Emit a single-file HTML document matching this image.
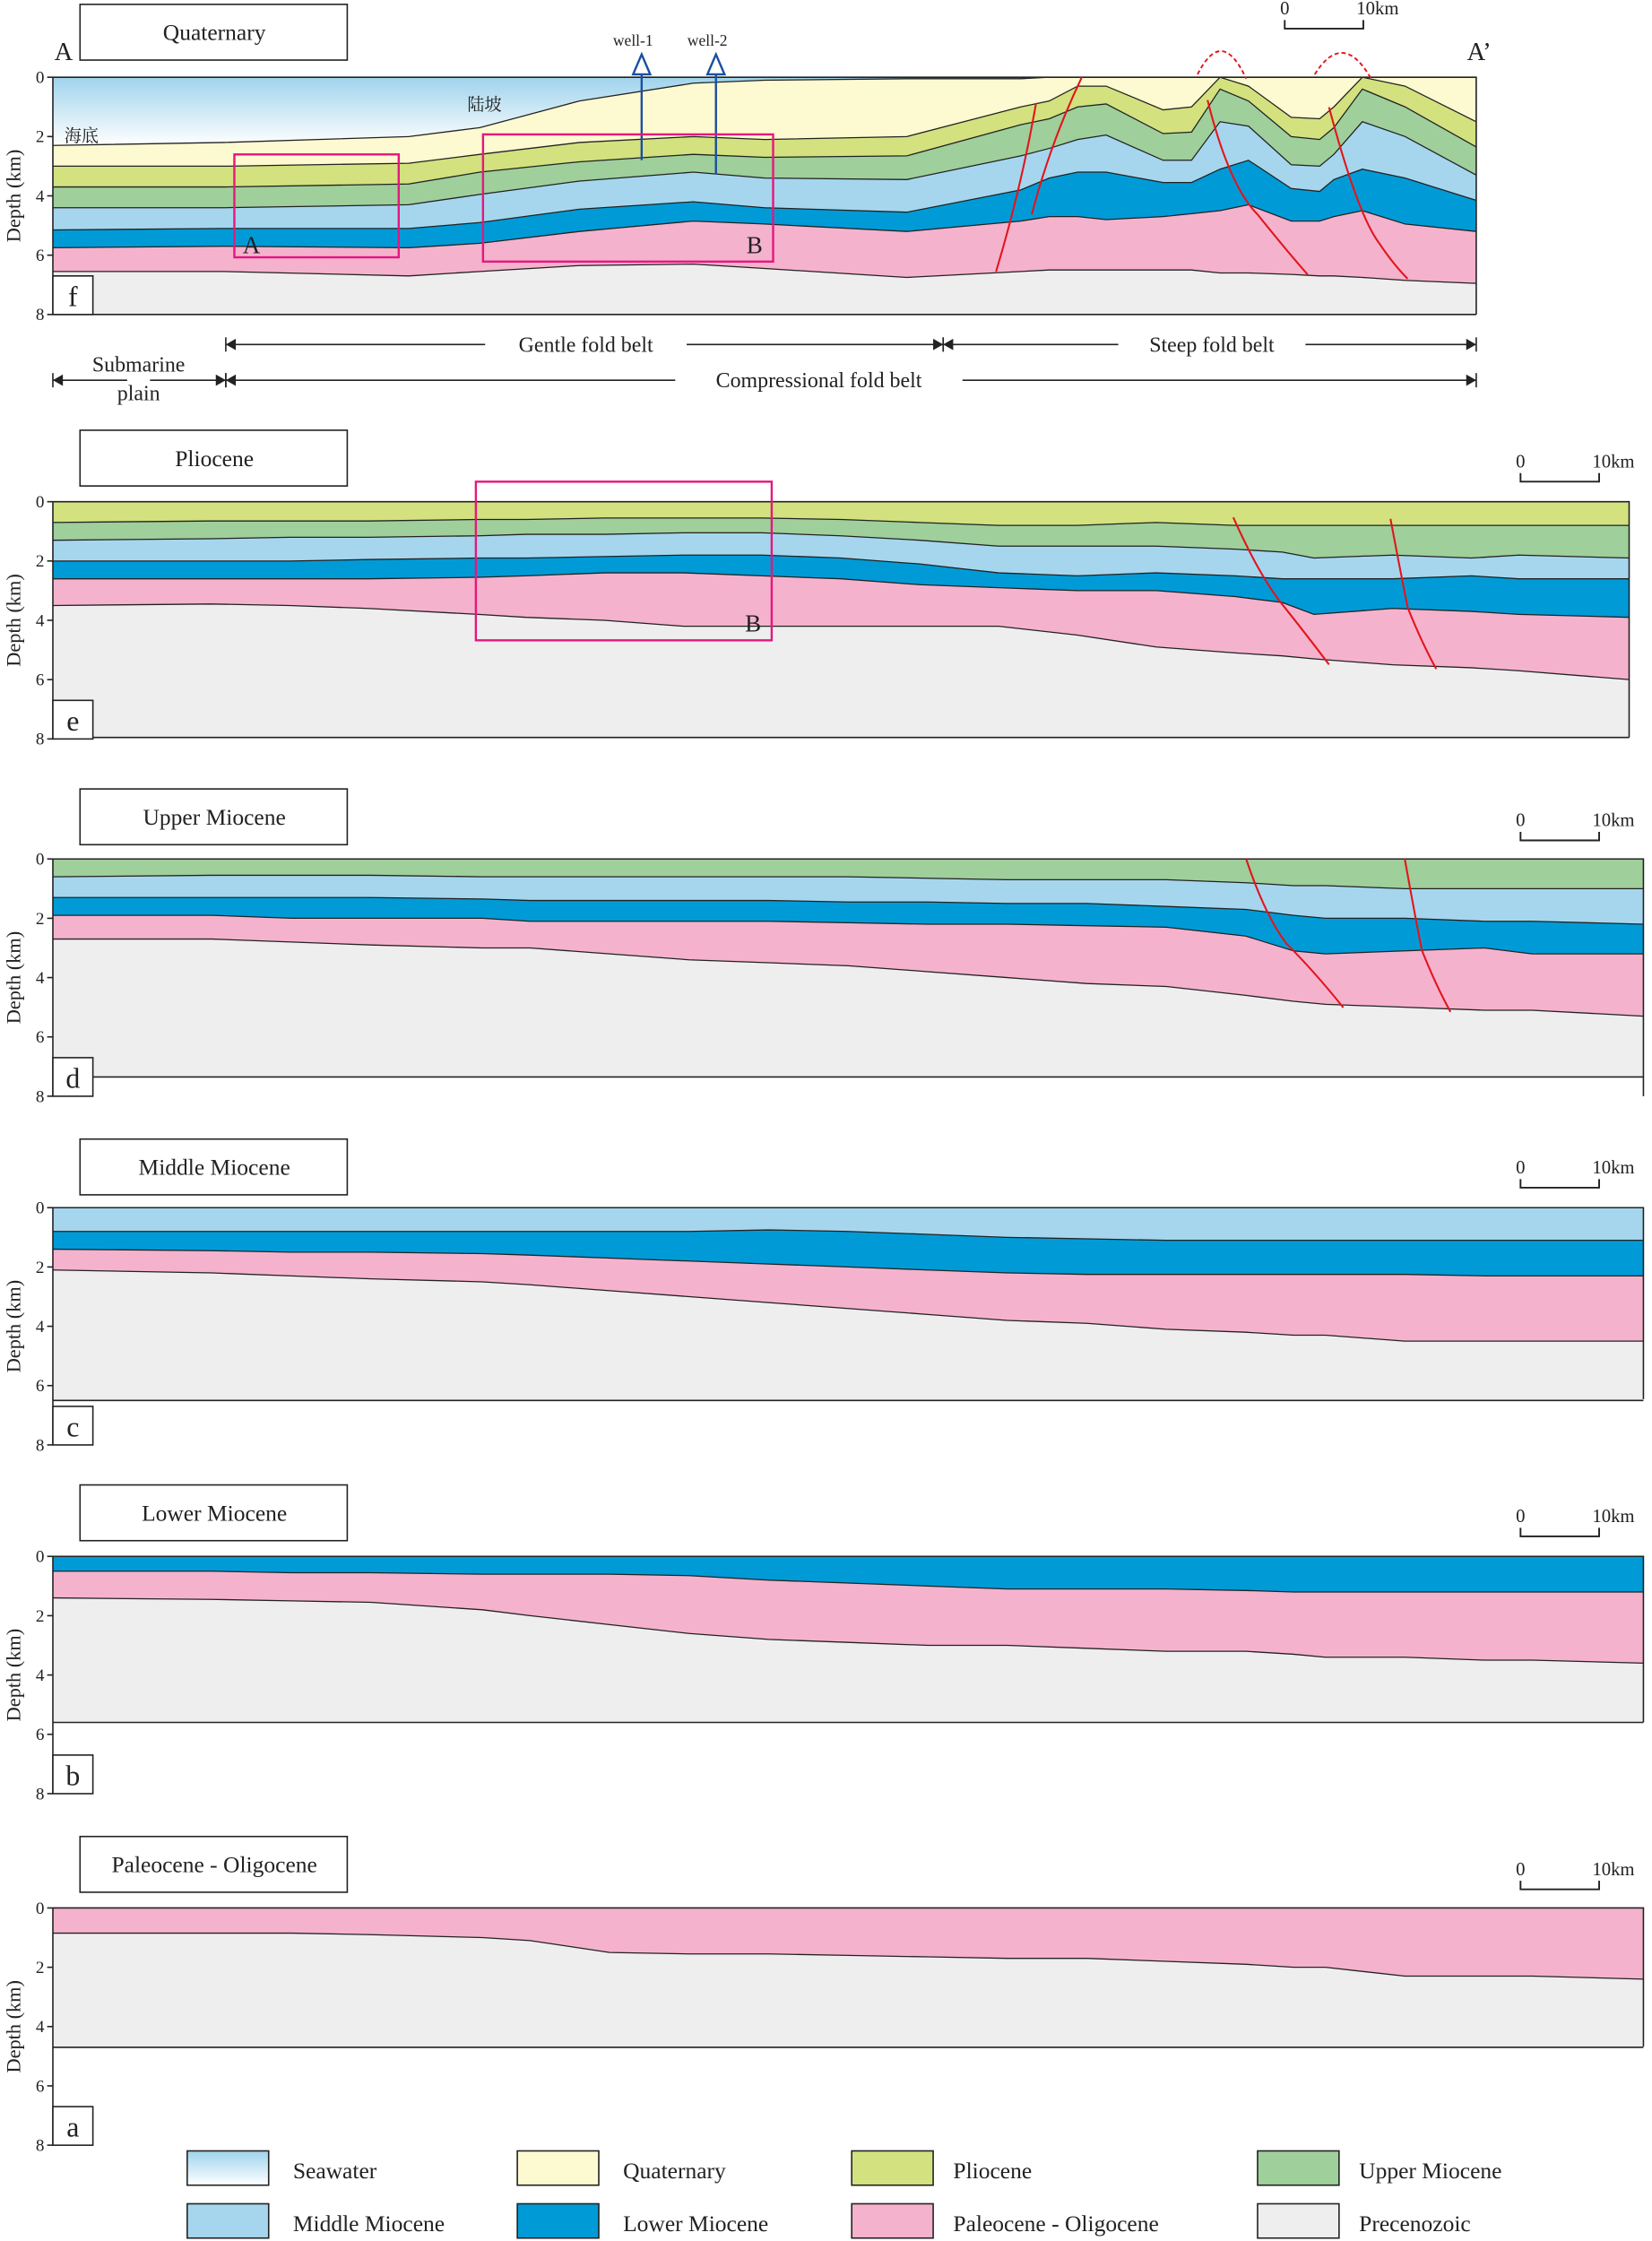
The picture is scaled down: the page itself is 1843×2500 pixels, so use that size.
<!DOCTYPE html>
<html><head><meta charset="utf-8">
<style>
html,body{margin:0;padding:0;background:#fff}
svg{display:block}
text{font-family:"Liberation Serif","Noto Serif CJK SC",serif;fill:#222}
</style></head>
<body>
<svg id="fig" xmlns="http://www.w3.org/2000/svg" width="1843" height="2500" viewBox="0 0 1156 1568">
<defs>
<linearGradient id="sea" x1="0" y1="0" x2="0" y2="1">
<stop offset="0" stop-color="#9fd3ec"/><stop offset="1" stop-color="#ffffff"/>
</linearGradient>
<linearGradient id="seaLeg" x1="0" y1="0" x2="0" y2="1">
<stop offset="0" stop-color="#9fd3ec"/><stop offset="1" stop-color="#ffffff"/>
</linearGradient>
</defs>
<g id="layers"></g>
<g id="overlay"></g>
</svg>
<script>
// ---------- DATA ----------
const layerNames = ["Seawater","Quaternary","Pliocene","Upper Miocene","Middle Miocene","Lower Miocene","Paleocene - Oligocene","Precenozoic"];
const layerColors = ["url(#sea)","#fdf9d0","#d3e17f","#9fcf9b","#a6d6ee","#009bd6","#f4b2cd","#eeeeee"];

// Panel f (Quaternary) - fraction along section, horizon tops in km
const fXs = [0,0.12,0.25,0.3,0.37,0.45,0.5,0.6,0.68,0.7,0.72,0.74,0.78,0.8,0.82,0.84,0.87,0.89,0.9,0.92,0.95,1];
const fSea   = [0,0,0,0,0,0,0,0,0,0,0,0,0,0,0,0,0,0,0,0,0,0];
const fQuat  = [2.3,2.2,2.0,1.7,0.8,0.2,0.1,0.05,0.05,0,0,0,0,0,0,0,0,0,0,0,0,0];
const fPlio  = [3.0,3.0,2.9,2.6,2.2,2.0,2.1,2.0,1.0,0.8,0.3,0.3,1.1,1.0,0,0.3,1.35,1.4,1.0,0,0.3,1.5];
const fUM    = [3.7,3.7,3.6,3.2,2.85,2.6,2.7,2.65,1.6,1.4,1.0,0.9,1.9,1.85,0.4,0.8,2.0,2.1,1.7,0.4,1.0,2.35];
const fMM    = [4.4,4.4,4.3,3.95,3.5,3.2,3.4,3.45,2.65,2.4,2.1,1.95,2.8,2.8,1.5,1.65,2.95,3.0,2.6,1.5,2.0,3.3];
const fLM    = [5.15,5.1,5.1,4.9,4.45,4.2,4.4,4.55,3.8,3.4,3.2,3.2,3.55,3.55,3.1,2.8,3.75,3.85,3.45,3.1,3.4,4.15];
const fPO    = [5.75,5.7,5.75,5.6,5.2,4.85,4.95,5.2,4.85,4.7,4.7,4.8,4.7,4.6,4.5,4.3,4.85,4.85,4.7,4.5,4.95,5.2];
const fPre   = [6.55,6.55,6.7,6.55,6.35,6.3,6.45,6.75,6.55,6.5,6.5,6.5,6.5,6.5,6.6,6.6,6.65,6.7,6.7,6.75,6.85,6.95];

// common x fractions for panels a-e
const xs = [0,0.1,0.15,0.2,0.27,0.3,0.35,0.4,0.45,0.5,0.55,0.6,0.65,0.7,0.75,0.78,0.8,0.85,0.9,0.93,1];
// Panel e (Pliocene)
const ePlio = xs.map(()=>0);
const eUM  = [0.7,0.65,0.65,0.65,0.6,0.6,0.55,0.55,0.55,0.6,0.7,0.8,0.8,0.7,0.8,0.8,0.8,0.8,0.8,0.8,0.8];
const eMM  = [1.3,1.25,1.2,1.2,1.15,1.1,1.1,1.05,1.05,1.15,1.3,1.5,1.5,1.5,1.6,1.7,1.9,1.8,1.9,1.8,1.9];
const eLM  = [2.0,2.0,2.0,1.95,1.9,1.9,1.85,1.8,1.8,1.9,2.1,2.4,2.5,2.4,2.5,2.6,2.6,2.6,2.5,2.6,2.6];
const ePO  = [2.6,2.6,2.6,2.6,2.55,2.5,2.4,2.4,2.5,2.6,2.8,2.9,3.0,3.0,3.2,3.4,3.8,3.6,3.7,3.8,3.9];
const ePre = [3.5,3.45,3.5,3.6,3.8,3.9,4.0,4.2,4.2,4.2,4.2,4.2,4.5,4.9,5.1,5.2,5.3,5.5,5.6,5.7,6.0];
// Panel d (Upper Miocene)
const dUM  = xs.map(()=>0);
const dMM  = [0.6,0.55,0.55,0.55,0.6,0.6,0.6,0.6,0.6,0.6,0.65,0.7,0.7,0.7,0.8,0.9,0.9,1.0,1.0,1.0,1.0];
const dLM  = [1.3,1.3,1.3,1.3,1.35,1.4,1.4,1.4,1.4,1.45,1.45,1.5,1.5,1.6,1.7,1.9,2.0,2.0,2.1,2.1,2.2];
const dPO  = [1.9,1.9,2.0,2.0,2.0,2.1,2.1,2.1,2.1,2.15,2.2,2.2,2.25,2.3,2.6,3.1,3.2,3.1,3.0,3.2,3.2];
const dPre = [2.7,2.7,2.8,2.9,3.0,3.0,3.2,3.4,3.5,3.6,3.8,4.0,4.2,4.3,4.6,4.8,4.9,5.0,5.1,5.1,5.3];
// Panel c (Middle Miocene)
const cMM  = xs.map(()=>0);
const cLM  = [0.8,0.8,0.8,0.8,0.8,0.8,0.8,0.8,0.75,0.8,0.9,1.0,1.05,1.1,1.1,1.1,1.1,1.1,1.1,1.1,1.1];
const cPO  = [1.4,1.45,1.5,1.5,1.55,1.6,1.7,1.8,1.9,2.0,2.1,2.2,2.25,2.25,2.25,2.25,2.25,2.25,2.3,2.3,2.3];
const cPre = [2.1,2.2,2.3,2.4,2.5,2.6,2.8,3.0,3.2,3.4,3.6,3.8,3.9,4.1,4.2,4.3,4.3,4.5,4.5,4.5,4.5];
// Panel b (Lower Miocene)
const bLM  = xs.map(()=>0);
const bPO  = [0.5,0.5,0.55,0.55,0.6,0.6,0.6,0.65,0.8,0.9,1.0,1.1,1.1,1.1,1.15,1.2,1.2,1.2,1.2,1.2,1.2];
const bPre = [1.4,1.45,1.5,1.55,1.8,2.0,2.3,2.6,2.8,2.9,3.0,3.0,3.1,3.2,3.2,3.3,3.4,3.4,3.5,3.5,3.6];
// Panel a (Paleocene - Oligocene)
const aPO  = xs.map(()=>0);
const aPre = [0.85,0.85,0.85,0.9,1.0,1.1,1.5,1.55,1.55,1.6,1.65,1.7,1.7,1.8,1.9,2.0,2.0,2.3,2.3,2.3,2.4];

const depthTicks = [0,2,4,6,8];

// ---------- DRAW ----------
const NS="http://www.w3.org/2000/svg";
const L=document.getElementById('layers');
const O=document.getElementById('overlay');
const PPK=20.75;
function mk(tag,attrs,parent){const e=document.createElementNS(NS,tag);for(const k in attrs)e.setAttribute(k,attrs[k]);(parent||O).appendChild(e);return e;}
function txt(x,y,s,size,anchor,parent){const t=mk('text',{x:x,y:y,'font-size':size,'text-anchor':anchor||'start'},parent);t.textContent=s;return t;}

function drawPanel(id,pxs,horizons,firstLayer,x0,x1,y0,bottom,frameRight){
  const X=f=>x0+f*(x1-x0);
  const Y=d=>y0+d*PPK;
  const g=mk('g',{},L);
  
  
  for(let i=0;i<horizons.length;i++){
    const top=horizons[i];
    const bot=i+1<horizons.length?horizons[i+1]:pxs.map(()=>bottom);
    let pts=pxs.map((f,j)=>X(f)+','+Y(top[j]));
    for(let j=pxs.length-1;j>=0;j--)pts.push(X(pxs[j])+','+Y(Math.max(bot[j],top[j])));
    const p=mk('polygon',{points:pts.join(' '),fill:layerColors[firstLayer+i],stroke:'none'},g);
    
    
  }
  for(let i=1;i<horizons.length;i++){
    const pl=mk('polyline',{points:pxs.map((f,j)=>X(f)+','+Y(horizons[i][j])).join(' '),fill:'none',stroke:'#222','stroke-width':0.8},g);
    
    
  }
  // frame
  const fr=mk('polyline',{points:`${x0},${Y(0)} ${x1},${Y(0)} ${x1},${frameRight} `,fill:'none',stroke:'#222','stroke-width':1});
  
  
  const bl=mk('line',{x1:x0,y1:Y(bottom),x2:x1,y2:Y(bottom),stroke:'#222','stroke-width':1});
  
  
  // axis
  const ax=mk('line',{x1:x0,y1:Y(0),x2:x0,y2:Y(8),stroke:'#222','stroke-width':1});
  
  
  depthTicks.forEach(t=>{
    const tk=mk('line',{x1:x0-4,y1:Y(t),x2:x0,y2:Y(t),stroke:'#222','stroke-width':1});
    
    
    const tl=txt(x0-6,Y(t)+4,String(t),12,'end');
    
    
  });
  const at=mk('text',{x:0,y:0,'font-size':14,'text-anchor':'middle',transform:`translate(14,${Y(4)}) rotate(-90)`});
  at.textContent='Depth (km)';
  
  
  // panel letter
  const lb=mk('rect',{x:x0,y:Y(6.7),width:28,height:27,fill:'#fff',stroke:'#222','stroke-width':1});
  
  
  const lt=txt(x0+14,Y(6.7)+21,id,20,'middle');
  
  
}

drawPanel('f',fXs,[fSea,fQuat,fPlio,fUM,fMM,fLM,fPO,fPre],0,37,1033,54,8,220);
drawPanel('e',xs,[ePlio,eUM,eMM,eLM,ePO,ePre],2,37,1140,351,7.95,516);
drawPanel('d',xs,[dUM,dMM,dLM,dPO,dPre],3,37,1150,601,7.35,767);
drawPanel('c',xs,[cMM,cLM,cPO,cPre],4,37,1150,845,6.5,979);
drawPanel('b',xs,[bLM,bPO,bPre],5,37,1150,1089,5.6,1205);
drawPanel('a',xs,[aPO,aPre],6,37,1150,1335,4.7,1432);

// title boxes
[['Quaternary',3],['Pliocene',301],['Upper Miocene',552],['Middle Miocene',797],['Lower Miocene',1039],['Paleocene - Oligocene',1285]].forEach(([t,y])=>{
  const r=mk('rect',{x:56,y:y,width:187,height:39,fill:'#fff',stroke:'#222','stroke-width':1});
  
  
  const tt=txt(150,y+25,t,16,'middle');
  
  
});

// scale bars
[[899,20],[1064,337],[1064,588],[1064,831],[1064,1075],[1064,1322]].forEach(([x,y])=>{
  const s=mk('polyline',{points:`${x},${y-6} ${x},${y} ${x+55},${y} ${x+55},${y-6}`,fill:'none',stroke:'#222','stroke-width':1.2});
  
  
  const a=txt(x,y-10,'0',13,'middle');  
  const b=txt(x+65,y-10,'10km',13,'middle');  
});
</script>
<script>
// static annotations
(function(){
const NS="http://www.w3.org/2000/svg";const O=document.getElementById('overlay');
function mk(tag,attrs){const e=document.createElementNS(NS,tag);for(const k in attrs)e.setAttribute(k,attrs[k]);O.appendChild(e);return e;}
function txt(x,y,s,size,anchor){const t=mk('text',{x:x,y:y,'font-size':size,'text-anchor':anchor||'start'});t.textContent=s;return t;}
let e;
e=txt(38,42,'A',18);  
e=txt(1035,42,'A’',18,'middle');  
e=txt(45,99,'海底',12);  
e=txt(327,77,'陆坡',12);  
// faults
const faults=['M697,190 Q715,130 725,72','M757,54 Q735,100 722,150','M845,70 Q860,130 880,150 Q900,175 915,192','M930,75 Q950,150 965,170 Q975,185 985,195',
 'M863,362 Q880,400 895,420 Q915,445 930,465','M973,363 Q980,400 985,425 Q995,450 1005,468',
 'M872,601 Q885,640 900,660 Q920,680 940,705','M983,601 Q990,640 995,665 Q1005,690 1015,708'];
faults.forEach(d=>{e=mk('path',{d:d,fill:'none',stroke:'#e3141b','stroke-width':1.3});  });
['M838,52 Q855,18 872,55','M920,52 Q940,20 960,56'].forEach(d=>{e=mk('path',{d:d,fill:'none',stroke:'#e3141b','stroke-width':1.2,'stroke-dasharray':'3,2'});  });
// wells
[[449,112,'well-1'],[501,122,'well-2']].forEach(([x,y,l])=>{
 e=mk('line',{x1:x,y1:50,x2:x,y2:y,stroke:'#1a4fa0','stroke-width':1.5});  
 e=mk('polygon',{points:`${x-6},52 ${x},38 ${x+6},52`,fill:'#fff',stroke:'#1a4fa0','stroke-width':1.5});  
 e=txt(x-6,32,l,11,'middle');  
});
// highlight boxes
[[164,108,115,72,'A',176,177],[338,94,203,89,'B',528,177],[333,337,207,111,'B',527,442]].forEach(([x,y,w,h,l,lx,ly])=>{
 e=mk('rect',{x:x,y:y,width:w,height:h,fill:'none',stroke:'#e5177e','stroke-width':1.5});  
 e=txt(lx,ly,l,17,'middle');  
});
// belts
function belt(x1,x2,y,label,tx,tw){
 e=mk('line',{x1:x1,y1:y,x2:tx-tw/2-8,y2:y,stroke:'#222','stroke-width':1});  
 e=mk('line',{x1:tx+tw/2+8,y1:y,x2:x2,y2:y,stroke:'#222','stroke-width':1});  
 e=mk('polygon',{points:`${x1},${y} ${x1+7},${y-4} ${x1+7},${y+4}`,fill:'#222'});  
 e=mk('polygon',{points:`${x2},${y} ${x2-7},${y-4} ${x2-7},${y+4}`,fill:'#222'});  
 e=mk('line',{x1:x1,y1:y-5,x2:x1,y2:y+5,stroke:'#222'});  
 e=mk('line',{x1:x2,y1:y-5,x2:x2,y2:y+5,stroke:'#222'});  
 if(label){e=txt(tx,y+5,label,15,'middle');  }
}
belt(158,660,241,'Gentle fold belt',410,125);
belt(660,1033,241,'Steep fold belt',848,115);
belt(158,1033,266,'Compressional fold belt',573,185);
belt(37,158,266,'',97,0);
e=txt(97,260,'Submarine',15,'middle');  
e=txt(97,280,'plain',15,'middle');  
// legend
const leg=[['Seawater','url(#seaLeg)',131,1505,205],['Quaternary','#fdf9d0',362,1505,436],['Pliocene','#d3e17f',596,1505,667],['Upper Miocene','#9fcf9b',880,1505,951],
['Middle Miocene','#a6d6ee',131,1542,205],['Lower Miocene','#009bd6',362,1542,436],['Paleocene - Oligocene','#f4b2cd',596,1542,667],['Precenozoic','#eeeeee',880,1542,951]];
leg.forEach(([t,c,x,y,tx])=>{
 e=mk('rect',{x:x,y:y,width:57,height:24,fill:c,stroke:'#222','stroke-width':1});  
 e=txt(tx,y+19,t,16);  
});
})();
</script>
</body></html>
